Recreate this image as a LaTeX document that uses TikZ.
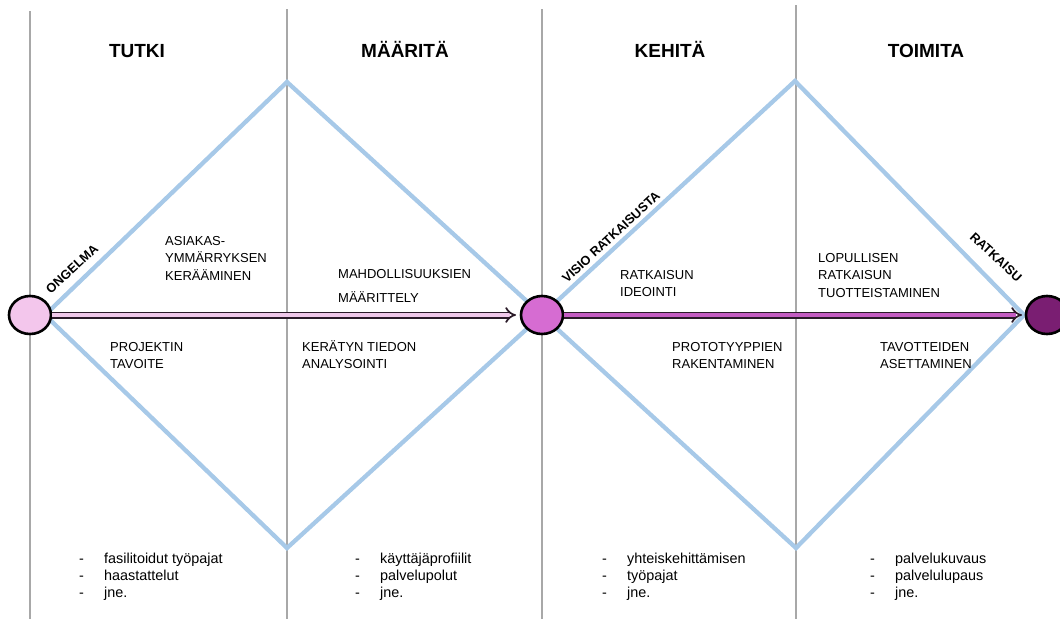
\documentclass[tikz,border=0pt]{standalone}
\usepackage{fontspec}
\setmainfont{Liberation Sans}
\usetikzlibrary{arrows.meta,shapes.geometric}
\definecolor{gridgray}{HTML}{A8A8A8}
\definecolor{dblue}{HTML}{A7C9E8}
\definecolor{pinkA}{HTML}{F3C6EC}
\definecolor{pinkB}{HTML}{D66CD2}
\definecolor{purpC}{HTML}{7A1E72}
\definecolor{arrowA}{HTML}{F0C8EA}
\definecolor{arrowB}{HTML}{C45CC2}
\definecolor{outl}{HTML}{2A1A28}
\newcommand\textlines[4]{%
  \foreach \t [count=\i] in {#4} {
    \node[lbl] (#3\i) at (#1, {#2+(\i-1)*17.5}) {\t};
  }%
}
\newcommand\listlines[4]{%
  \foreach \t [count=\i] in {#4} {
    \node[lbl, font=\fontsize{14.4}{17}\selectfont] (#3\i) at (#1, {#2+(\i-1)*17}) {\t};
  }%
}
\newcommand\dashitem[1]{\makebox[25pt][l]{-}#1}
\begin{document}
\begin{tikzpicture}[x=1pt,y=-1pt,
  gridline/.style={draw=gridgray, line width=2.2pt},
  diamondline/.style={draw=dblue, line width=4.3pt, line join=miter},
  stagecircle/.style={ellipse, draw=black, line width=2.6pt, minimum width=42pt, minimum height=38pt, inner sep=0pt},
  lbl/.style={anchor=base west, inner sep=0pt, font=\fontsize{13}{16}\selectfont},
  heading/.style={anchor=base, inner sep=0pt, font=\bfseries\fontsize{19}{22}\selectfont},
  edgelabel/.style={anchor=center, inner sep=0pt, font=\bfseries\fontsize{12.8}{14}\selectfont},
  flowarrow/.style={draw=outl, line width=1.7pt, double distance=3.6pt, -{Implies[scale=1.25]}}
]
\useasboundingbox (0,0) rectangle (1060,619);

% vertical grid lines
\coordinate (g1t) at (30,11);  \coordinate (g1b) at (30,619);
\coordinate (g2t) at (287,9);  \coordinate (g2b) at (287,619);
\coordinate (g3t) at (542,9);  \coordinate (g3b) at (542,619);
\coordinate (g4t) at (796,5);  \coordinate (g4b) at (796,619);
\draw[gridline] (g1t) -- (g1b);
\draw[gridline] (g2t) -- (g2b);
\draw[gridline] (g3t) -- (g3b);
\draw[gridline] (g4t) -- (g4b);

% diamonds
\coordinate (d1l) at (45,315);
\coordinate (d1t) at (287,82);
\coordinate (d1r) at (542,315);
\coordinate (d1b) at (287,548);
\coordinate (d2t) at (795,81);
\coordinate (d2r) at (1024,315);
\coordinate (d2b) at (796,548);
\draw[diamondline] (d1l) -- (d1t) -- (d1r) -- (d1b) -- cycle;
\draw[diamondline] (d1r) -- (d2t) -- (d2r) -- (d2b) -- cycle;

% circles
\node[stagecircle, fill=pinkA] (c1) at (30,315) {};
\node[stagecircle, fill=pinkB] (c2) at (542,315) {};
\node[stagecircle, fill=purpC] (c3) at (1047,315) {};

% arrows
\coordinate (t1) at (516,315);
\coordinate (t2) at (1022,315);
\draw[flowarrow, double=arrowA] (c1.east) -- (t1);
\draw[flowarrow, double=arrowB] (c2.east) -- (t2);

% headings
\node[heading] (h1) at (137,57) {TUTKI};
\node[heading] (h2) at (405,57) {MÄÄRITÄ};
\node[heading] (h3) at (670,57) {KEHITÄ};
\node[heading] (h4) at (926,57) {TOIMITA};

% edge labels
\node[edgelabel, rotate=42.6] (l1) at (72,269) {ONGELMA};
\node[edgelabel, rotate=42.6] (l2) at (611,237) {VISIO RATKAISUSTA};
\node[edgelabel, rotate=-42.9] (l3) at (996,257) {RATKAISU};

% upper texts
\textlines{165}{245}{asi}{ASIAKAS-,YMMÄRRYKSEN,KERÄÄMINEN}
\node[lbl] (mah1) at (338,278) {MAHDOLLISUUKSIEN};
\node[lbl] (mah2) at (338,302) {MÄÄRITTELY};
\textlines{620}{279}{rat}{RATKAISUN,IDEOINTI}
\textlines{818}{262}{lop}{LOPULLISEN,RATKAISUN,TUOTTEISTAMINEN}

% lower texts
\textlines{110}{351}{pro}{PROJEKTIN,TAVOITE}
\textlines{302}{351}{ker}{KERÄTYN TIEDON,ANALYSOINTI}
\textlines{672}{351}{prt}{PROTOTYYPPIEN,RAKENTAMINEN}
\textlines{880}{351}{tav}{TAVOTTEIDEN,ASETTAMINEN}

% bottom lists
\listlines{79}{563}{la}{\dashitem{fasilitoidut työpajat},\dashitem{haastattelut},\dashitem{jne.}}
\listlines{355}{563}{lb}{\dashitem{käyttäjäprofiilit},\dashitem{palvelupolut},\dashitem{jne.}}
\listlines{602}{563}{lc}{\dashitem{yhteiskehittämisen},\dashitem{}työpajat,\dashitem{jne.}}
\listlines{870}{563}{ld}{\dashitem{palvelukuvaus},\dashitem{palvelulupaus},\dashitem{jne.}}
\end{tikzpicture}
\end{document}
